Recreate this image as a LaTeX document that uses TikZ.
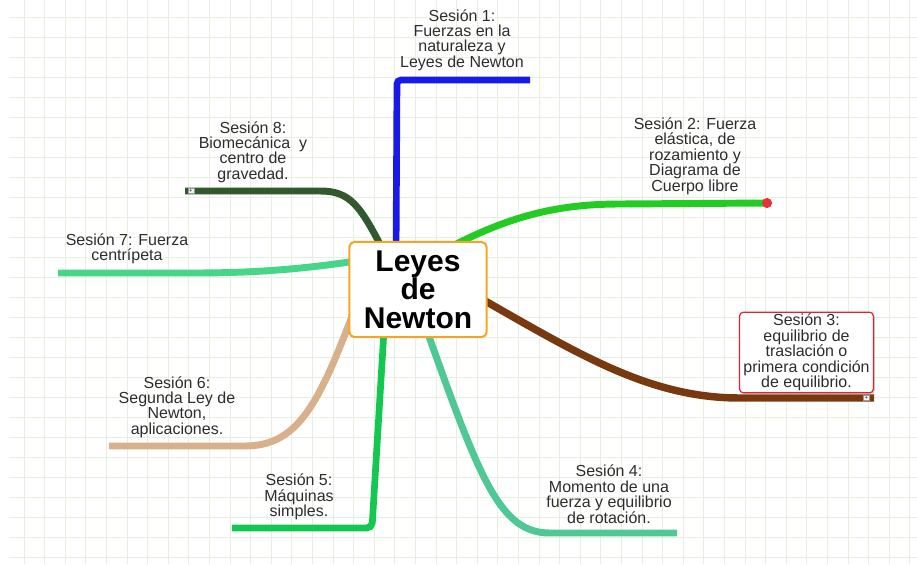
\documentclass[tikz,border=0pt]{standalone}
\usepackage{fontspec}
\setmainfont{Liberation Sans}
\usetikzlibrary{shadows}
\definecolor{gridcol}{RGB}{230,239,224}
\definecolor{labelgray}{RGB}{45,45,45}
\definecolor{orangeb}{RGB}{245,165,35}
\definecolor{redb}{RGB}{225,35,45}
\definecolor{cA}{RGB}{25,25,232}
\definecolor{cB}{RGB}{34,204,34}
\definecolor{cC}{RGB}{120,56,16}
\definecolor{cD}{RGB}{80,200,150}
\definecolor{cE}{RGB}{18,200,80}
\definecolor{cF}{RGB}{216,176,140}
\definecolor{cG}{RGB}{70,214,136}
\definecolor{cH}{RGB}{50,88,45}
\definecolor{dotred}{RGB}{230,50,55}
\begin{document}
\begin{tikzpicture}[x=0.75pt,y=-0.75pt,
  branch/.style={line width=5.2pt, line cap=butt},
  lbl/.style={align=center, font=\fontsize{12}{11.6}\selectfont, text=labelgray, inner sep=0pt},
  marker/.style={draw=gray!80, fill=gray!10, line width=0.3pt, minimum width=4.5pt, minimum height=3.8pt, inner sep=0pt, font=\fontsize{4}{4}\selectfont, text=black}]
% canvas
\fill[white] (0,0) rectangle (917,564);
\useasboundingbox (0,0) rectangle (917,564);
% grid
\foreach \i in {0,...,43} \draw[gridcol, line width=0.75pt] ({24+20.6*\i},0) -- ({24+20.6*\i},564);
\foreach \j in {0,...,27} \draw[gridcol, line width=0.75pt] (9,{17.7+20*\j}) -- (917,{17.7+20*\j});
% start points (hidden under central node) and free ends
\coordinate (a1) at (396,260);
\coordinate (a2) at (445,250);
\coordinate (a3) at (480,298);
\coordinate (a4) at (426,328);
\coordinate (a5) at (384,330);
\coordinate (a6) at (356,306);
\coordinate (a7) at (356,261);
\coordinate (a8) at (384,252);
\coordinate (e1) at (530,80);
\coordinate (e2) at (767,203);
\coordinate (e3) at (874,398);
\coordinate (e4) at (677,533);
\coordinate (e5) at (232,528);
\coordinate (e6) at (109,446);
\coordinate (e7) at (58,273);
\coordinate (e8) at (185,191);
% branches
\draw[branch, cA, line width=5pt, rounded corners=3pt] (a1) -- (397,80) -- (e1);
\draw[branch, cB] (a2) .. controls (510,215) and (560,204) .. (620,204) -- (e2);
\draw[branch, cC, line width=5.6pt] (a3) .. controls (580,355) and (650,398) .. (740,398) -- (e3);
\draw[branch, cD] (a4) .. controls (480,480) and (500,533) .. (550,533) -- (e4);
\draw[branch, cE, line width=5pt, rounded corners=4pt] (a5) -- (372,528) -- (e5);
\draw[branch, cF] (a6) .. controls (320,400) and (300,446) .. (245,446) -- (e6);
\draw[branch, cG] (a7) .. controls (290,271) and (240,273) .. (193,273) -- (e7);
\draw[branch, cH] (a8) .. controls (360,205) and (350,191) .. (320,191) -- (e8);
\fill[dotred] (e2) circle (3.8pt);
% central node
\node[draw=orangeb, line width=1.5pt, rounded corners=4pt, fill=white,
      minimum width=103pt, minimum height=71.5pt, align=center, inner sep=0pt,
      font=\bfseries\fontsize{22.5}{21.5}\selectfont, text=black] (c) at (418,289.5) {Leyes\\de\\Newton};
% labels
\node[lbl] (s1) at (462,40) {Sesión 1:\\Fuerzas en la\\naturaleza y\\Leyes de Newton};
\node[lbl] (s2) at (695,156) {Sesión 2: Fuerza\\elástica, de\\rozamiento y\\Diagrama de\\Cuerpo libre};
\node[draw=redb, line width=0.9pt, rounded corners=3pt, fill=white,
      minimum width=100.5pt, minimum height=60.5pt,
      drop shadow={shadow xshift=1pt, shadow yshift=-1pt, opacity=0.35}] (box3) at (806.5,352.5) {};
\node[lbl] (s3) at (box3) {Sesión 3:\\equilibrio de\\traslación o\\primera condición\\de equilibrio.};
\node[lbl] (s4) at (609,494) {Sesión 4:\\Momento de una\\fuerza y equilibrio\\de rotación.};
\node[lbl] (s5) at (299,497) {Sesión 5:\\Máquinas\\simples.};
\node[lbl] (s6) at (177,407) {Sesión 6:\\Segunda Ley de\\Newton,\\aplicaciones.};
\node[lbl] (s7) at (127,249) {Sesión 7: Fuerza\\centrípeta};
\node[lbl] (s8) at (253,152) {Sesión 8:\\Biomecánica\ \ y\\centro de\\gravedad.};
% collapse markers
\node[marker] (m8) at (191,191) {+};
\node[marker] (m3) at (866.5,398) {+};
\end{tikzpicture}
\end{document}
